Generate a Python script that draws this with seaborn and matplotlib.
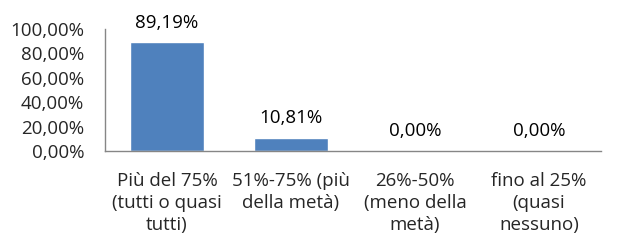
import matplotlib
matplotlib.use("Agg")
import matplotlib.pyplot as plt
import seaborn as sns
import pandas as pd

categories = ["Più del 75%\n(tutti o quasi\ntutti)", "51%-75% (più\ndella metà)",
              "26%-50%\n(meno della\nmetà)", "fino al 25%\n(quasi\nnessuno)"]
values = [89.19, 10.81, 0.00, 0.00]
value_labels = ["89,19%", "10,81%", "0,00%", "0,00%"]
yticks = [0, 20, 40, 60, 80, 100]
ytick_labels = ["0,00%", "20,00%", "40,00%", "60,00%", "80,00%", "100,00%"]

sns.set_style("white")
plt.rcParams['font.family'] = ['Open Sans', 'DejaVu Sans']

df = pd.DataFrame({"cat": categories, "val": values})

fig = plt.figure(figsize=(6.2, 2.44), dpi=100)
ax = fig.add_axes([105 / 620, 1 - 151 / 244, 496 / 620, 122 / 244])
sns.barplot(data=df, x="cat", y="val", color="#4F81BD", saturation=1, width=0.59, ax=ax)

fs = 13.5
for i, (v, lab) in enumerate(zip(values, value_labels)):
    ax.annotate(lab, (i, v), xytext=(0, 10.5), textcoords="offset points",
                ha="center", va="baseline", fontsize=fs, color="#000000")

ax.set_ylim(0, 100)
ax.set_yticks(yticks)
ax.set_yticklabels(ytick_labels, fontsize=fs)
ax.tick_params(axis="y", length=0, pad=15)
ax.tick_params(axis="x", length=0, pad=15)
for lab in ax.get_xticklabels():
    lab.set_fontsize(fs)
    lab.set_linespacing(1.3)
    lab.set_multialignment("center")
ax.set_xlabel("")
ax.set_ylabel("")
for s in ["top", "right"]:
    ax.spines[s].set_visible(False)
for s in ["left", "bottom"]:
    ax.spines[s].set_color("#868686")
    ax.spines[s].set_linewidth(1)

fig.savefig("out.png", dpi=100, facecolor="white")
